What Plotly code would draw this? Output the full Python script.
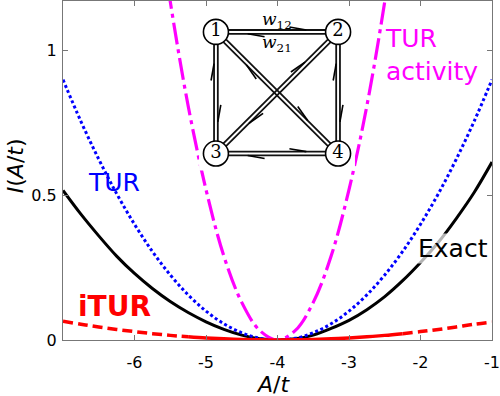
import plotly.graph_objects as go

# ---------------- data ----------------
A = [-7.0, -6.75, -6.5, -6.25, -6.0, -5.75, -5.5, -5.25, -5.0, -4.75, -4.5, -4.25,
     -4.0, -3.75, -3.5, -3.25, -3.0, -2.75, -2.5, -2.25, -2.0, -1.75, -1.5, -1.25, -1.0]

exact = [0.517, 0.435, 0.36, 0.29, 0.23, 0.178, 0.133, 0.095, 0.063, 0.037, 0.017, 0.004,
         0.0, 0.004, 0.017, 0.04, 0.068, 0.105, 0.15, 0.205, 0.268, 0.338, 0.42, 0.51, 0.615]

tur = [0.9, 0.756, 0.625, 0.506, 0.4, 0.306, 0.225, 0.156, 0.1, 0.056, 0.025, 0.006,
       0.0, 0.006, 0.025, 0.056, 0.1, 0.156, 0.225, 0.306, 0.4, 0.506, 0.625, 0.756, 0.9]

itur = [0.065, 0.0545, 0.045, 0.0365, 0.029, 0.022, 0.016, 0.011, 0.007, 0.004, 0.002, 0.0005,
        0.0, 0.0005, 0.002, 0.004, 0.007, 0.011, 0.016, 0.022, 0.029, 0.0365, 0.045, 0.0545, 0.062]

A_act = [-5.75, -5.5, -5.25, -5.0, -4.75, -4.5, -4.25, -4.0, -3.75, -3.5, -3.25, -3.0, -2.75, -2.5, -2.25]
tur_activity = [1.59, 1.17, 0.81, 0.52, 0.29, 0.13, 0.033, 0.0, 0.033, 0.13, 0.29, 0.52, 0.81, 1.17, 1.59]

x_ticks = [-6, -5, -4, -3, -2, -1]
x_ticktext = ["-6", "-5", "-4", "-3", "-2", "-1"]
y_ticks = [0, 0.5, 1]
y_ticktext = ["0", "0.5", "1"]

# network inset
node_names = ["1", "2", "3", "4"]
node_x = [0, 1, 0, 1]
node_y = [1, 1, 0, 0]
edges = [("1", "2"), ("3", "4"), ("1", "3"), ("2", "4"), ("1", "4"), ("2", "3")]

fig = go.Figure()

fig.add_trace(go.Scatter(x=A, y=exact, mode="lines", line=dict(color="black", width=3, shape="spline"),
                         hoverinfo="skip"))
fig.add_trace(go.Scatter(x=A, y=tur, mode="lines",
                         line=dict(color="#0000ff", width=3, dash="3px,2.6px", shape="spline"),
                         hoverinfo="skip"))
fig.add_trace(go.Scatter(x=A_act, y=tur_activity, mode="lines",
                         line=dict(color="#ff00ff", width=3.2, dash="22px,5px,4px,5px", shape="spline"),
                         hoverinfo="skip"))
# iTUR: dashed at the ends, solid in the middle
fig.add_trace(go.Scatter(x=A[:8], y=itur[:8], mode="lines",
                         line=dict(color="#ff0000", width=3.5, dash="10px,5px", shape="spline"),
                         hoverinfo="skip"))
fig.add_trace(go.Scatter(x=A[7:20], y=itur[7:20], mode="lines",
                         line=dict(color="#ff0000", width=3.5, shape="spline"), hoverinfo="skip"))
fig.add_trace(go.Scatter(x=A[19:], y=itur[19:], mode="lines",
                         line=dict(color="#ff0000", width=3.5, dash="10px,5px", shape="spline"),
                         hoverinfo="skip"))

# ---------------- inset network ----------------
PX, PY = 123.0, 122.0   # pixels per inset unit
R = 12.5                # node radius in px
OFF = 1.9               # half separation of the double lines
pos = {n: (x, y) for n, x, y in zip(node_names, node_x, node_y)}
lx, ly, bx, by = [], [], [], []
for a, b in edges:
    for s, t in ((a, b), (b, a)):
        P = (pos[s][0] * PX, pos[s][1] * PY)
        Q = (pos[t][0] * PX, pos[t][1] * PY)
        dx, dy = Q[0] - P[0], Q[1] - P[1]
        L = (dx * dx + dy * dy) ** 0.5
        ux, uy = dx / L, dy / L
        nx, ny = -uy, ux
        sx, sy = P[0] + ux * R + nx * OFF, P[1] + uy * R + ny * OFF
        ex, ey = Q[0] - ux * R + nx * OFF, Q[1] - uy * R + ny * OFF
        lx += [sx / PX, ex / PX, None]
        ly += [sy / PY, ey / PY, None]
        tx, ty = P[0] + ux * 0.74 * L + nx * OFF, P[1] + uy * 0.74 * L + ny * OFF
        cx, cy = tx - ux * 17 + nx * 3.0, ty - uy * 17 + ny * 3.0
        bx += [tx / PX, cx / PX, None]
        by += [ty / PY, cy / PY, None]

fig.add_trace(go.Scatter(x=lx, y=ly, mode="lines", line=dict(color="#111111", width=1.8),
                         xaxis="x2", yaxis="y2", hoverinfo="skip"))
fig.add_trace(go.Scatter(x=bx, y=by, mode="lines", line=dict(color="black", width=1.6),
                         xaxis="x2", yaxis="y2", hoverinfo="skip"))
fig.add_trace(go.Scatter(x=node_x, y=node_y, mode="markers+text", text=node_names,
                         textposition="middle center",
                         textfont=dict(family="DejaVu Serif, Liberation Serif, serif", size=18, color="black"),
                         marker=dict(size=25, color="white", line=dict(color="black", width=1.6)),
                         xaxis="x2", yaxis="y2", hoverinfo="skip"))

sans = "DejaVu Sans, Verdana, sans-serif"
axis_common = dict(showgrid=False, zeroline=False, showline=True, linecolor="#777777", linewidth=1.2,
                   mirror="ticks", ticks="inside", ticklen=5, tickcolor="#777777", tickwidth=1.2,
                   ticklabeloverflow="allow",
                   tickfont=dict(family=sans, size=16, color="black"))

fig.update_layout(
    width=500, height=396,
    margin=dict(l=63, r=5, t=0, b=56),
    plot_bgcolor="white", paper_bgcolor="white",
    showlegend=False,
    xaxis=dict(range=[-7, -1], tickvals=x_ticks, ticktext=x_ticktext, ticklabelstandoff=8, **axis_common),
    yaxis=dict(range=[0, 1.172], tickvals=y_ticks, ticktext=y_ticktext, ticklabelstandoff=2, **axis_common),
    xaxis2=dict(domain=[(200 - 63) / 432, (357 - 63) / 432], range=[-17 / 123, 1 + 17 / 123],
                visible=False, anchor="y2", fixedrange=True),
    yaxis2=dict(domain=[(340 - 170) / 340, (340 - 14) / 340], range=[-17 / 122, 1 + 17 / 122],
                visible=False, anchor="x2", fixedrange=True),
)

ann = [
    dict(x=-2.52, y=0.985, xref="x", yref="y", text="TUR<br>activity", showarrow=False, align="left",
         xanchor="left", yanchor="middle", font=dict(family=sans, size=25, color="#ff00ff")),
    dict(x=-6.29, y=0.545, xref="x", yref="y", text="TUR", showarrow=False,
         font=dict(family=sans, size=25, color="#0000ff")),
    dict(x=-6.28, y=0.115, xref="x", yref="y", text="<b>iTUR</b>", showarrow=False,
         font=dict(family=sans, size=28, color="#ff0000")),
    dict(x=-1.54, y=0.317, xref="x", yref="y", text="Exact", showarrow=False,
         bgcolor="rgba(255,255,255,0.7)", borderpad=0,
         font=dict(family=sans, size=25, color="black")),
    dict(x=0.49, y=-0.132, xref="paper", yref="paper", yanchor="middle", text="<i>A</i>/<i>t</i>",
         showarrow=False, font=dict(family=sans, size=22, color="black")),
    dict(x=-0.11, y=0.515, xref="paper", yref="paper", xanchor="center", yanchor="middle",
         text="<i>I</i>(<i>A</i>/<i>t</i>)", showarrow=False,
         textangle=-90, font=dict(family=sans, size=22, color="black")),
    dict(x=0.5, y=1.09, xref="x2", yref="y2", text="<i>w</i><sub>12</sub>", showarrow=False,
         font=dict(family="DejaVu Serif, Liberation Serif, serif", size=17, color="black")),
    dict(x=0.5, y=0.905, xref="x2", yref="y2", text="<i>w</i><sub>21</sub>", showarrow=False,
         font=dict(family="DejaVu Serif, Liberation Serif, serif", size=17, color="black")),
]
fig.update_layout(annotations=ann)

fig.write_html("out.html")
